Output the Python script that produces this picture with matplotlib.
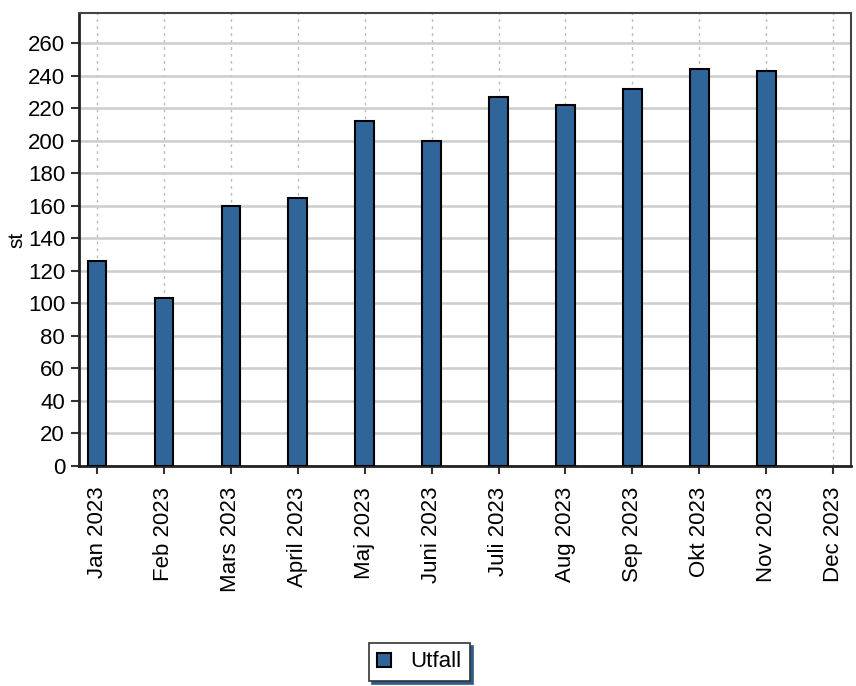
import matplotlib.pyplot as plt

plt.rcParams["font.family"] = ["Liberation Sans", "DejaVu Sans"]

# Data
months = ["Jan 2023", "Feb 2023", "Mars 2023", "April 2023", "Maj 2023", "Juni 2023",
          "Juli 2023", "Aug 2023", "Sep 2023", "Okt 2023", "Nov 2023", "Dec 2023"]
utfall = [126, 103, 160, 165, 212, 200, 227, 222, 232, 244, 243, None]
yticks = list(range(0, 261, 20))

fig = plt.figure(figsize=(8.56, 6.86), dpi=100)
ax = fig.add_axes([0.0923, 0.3207, 0.902, 0.6603])

x = list(range(len(months)))
xs = [i for i, v in zip(x, utfall) if v is not None]
vals = [v for v in utfall if v is not None]
bars = ax.bar(xs, vals, width=0.28, color="#30659a", edgecolor="black",
              linewidth=1.5, label="Utfall", zorder=3)

ax.set_xlim(-0.27, 11.27)
ax.set_ylim(0, 278.5)
ax.set_yticks(yticks)
ax.set_xticks(x)
ax.set_xticklabels(months, rotation=90, fontsize=16)
ax.tick_params(axis="y", labelsize=16, pad=4)
ax.tick_params(axis="x", pad=9)
ax.tick_params(direction="out", length=6, width=1.5, color="#333333")

ax.yaxis.grid(True, color="#cccccc", linewidth=1.8, zorder=0)
ax.xaxis.grid(True, color="#bbbbbb", linewidth=1, linestyle=(0, (2, 3)), zorder=0)
ax.set_axisbelow(True)

for side in ["left", "bottom"]:
    ax.spines[side].set_linewidth(2)
    ax.spines[side].set_color("#222222")
for side in ["top", "right"]:
    ax.spines[side].set_linewidth(1.5)
    ax.spines[side].set_color("#444444")

ax.set_ylabel("st", fontsize=15)
ax.yaxis.set_label_coords(-0.068, 0.5)

leg = fig.legend(handles=[bars], labels=["Utfall"], loc="center",
                 bbox_to_anchor=(0.49, 0.035), fontsize=16, frameon=True,
                 fancybox=False, shadow={"color": "#2c5b8c", "alpha": 1},
                 edgecolor="#333333", handlelength=0.6, handleheight=0.6,
                 borderpad=0.45, borderaxespad=0.3, handletextpad=0.9)
leg.get_frame().set_linewidth(1.2)
leg._legend_box.pad = 6

fig.savefig("out.png", dpi=100)
